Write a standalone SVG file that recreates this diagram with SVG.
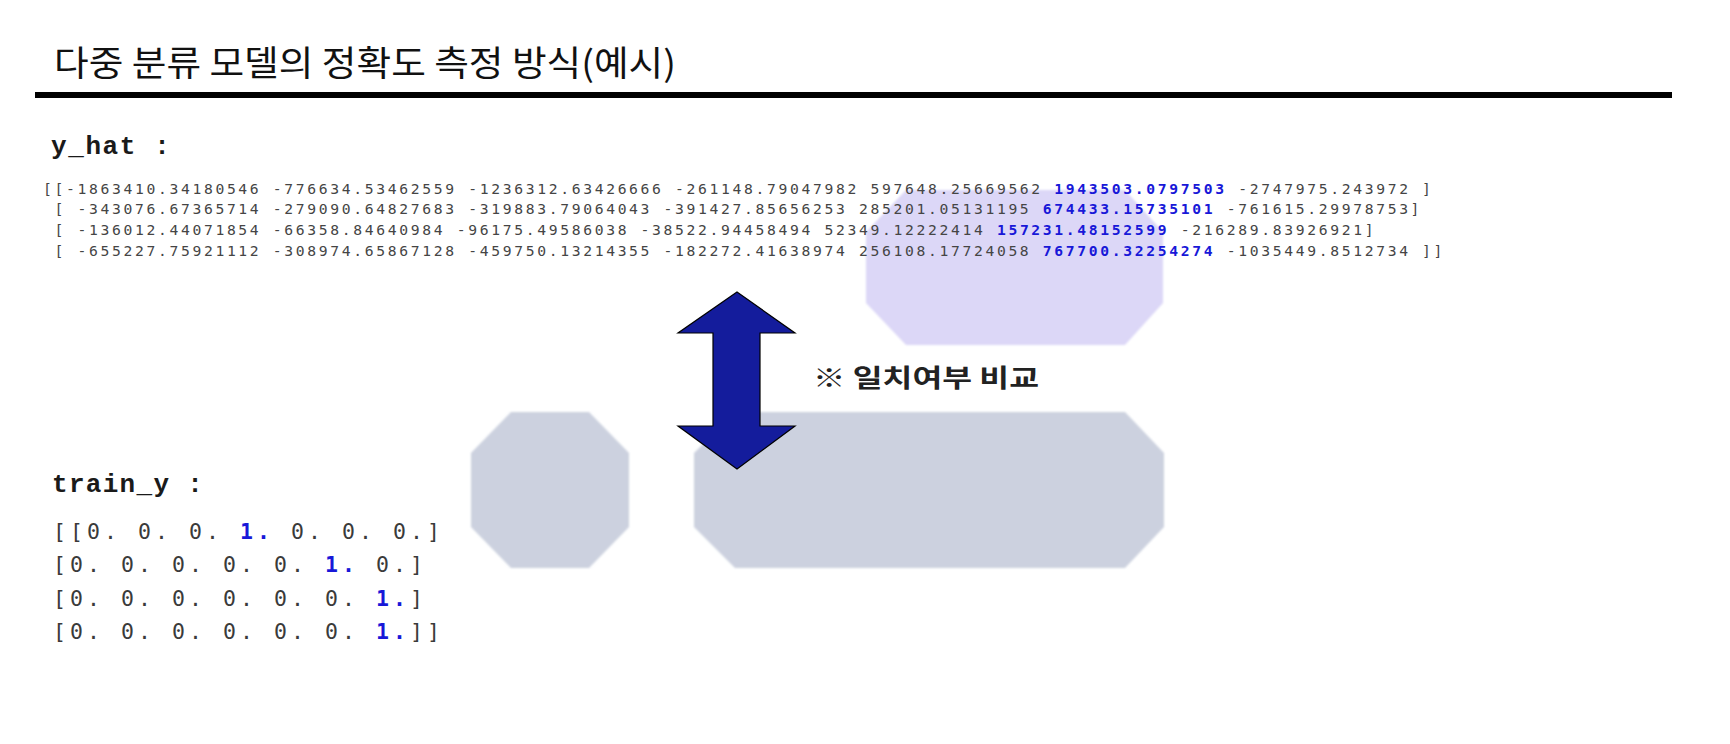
<svg xmlns="http://www.w3.org/2000/svg" width="1730" height="744" viewBox="0 0 1730 744">
  <style>
    .title { font-family: "Noto Sans CJK KR", "Noto Sans", sans-serif; font-size: 35px; font-weight: 400; fill: #111; }
    .label { font-family: "Liberation Mono", "Courier New", monospace; font-size: 26px; font-weight: 700; fill: #1a1a1a; }
    .num { font-family: "DejaVu Sans Mono", monospace; font-size: 14.7px; letter-spacing: 2.65px; fill: #454545; white-space: pre; }
    .row { font-family: "DejaVu Sans Mono", monospace; font-size: 21.5px; letter-spacing: 4.05px; fill: #3a3a3a; white-space: pre; }
    .hi { font-weight: 700; fill: #1818d8; }
    .note { font-family: "Noto Sans CJK KR", "Noto Sans", sans-serif; font-size: 25px; font-weight: 700; fill: #222; }
    .oct-gray { fill: #ccd1df; }
    .oct-purple { fill: #dcd7f7; }
    .arrow { fill: #141c9c; stroke: #000; stroke-width: 1.2; stroke-linejoin: miter; }
  </style>
  <defs>
    <filter id="soft" x="-5%" y="-5%" width="110%" height="110%">
      <feGaussianBlur stdDeviation="0.8"/>
    </filter>
  </defs>
  <rect width="1730" height="744" fill="#ffffff"/>

  <g id="shapes" filter="url(#soft)">
    <polygon id="oct-purple" class="oct-purple" points="906,190 1125,190 1163,232 1163,303 1125,345 906,345 866,303 866,232"/>
    <polygon id="oct-small" class="oct-gray" points="511,412 589,412 629,453 629,527 589,568 511,568 471,527 471,453"/>
    <polygon id="oct-large" class="oct-gray" points="735,412 1125,412 1164,453 1164,527 1125,568 735,568 694,527 694,453"/>
  </g>

  <g id="header">
    <text class="title" x="54" y="76" textLength="622" lengthAdjust="spacingAndGlyphs">다중 분류 모델의 정확도 측정 방식(예시)</text>
    <rect x="35" y="92" width="1637" height="6" fill="#000"/>
  </g>

  <g id="yhat">
    <text class="label" x="51" y="153.5" style="letter-spacing:1.6px">y_hat :</text>
    <text class="num" x="43" y="193.5">[[-1863410.34180546 -776634.53462559 -1236312.63426666 -261148.79047982 597648.25669562 <tspan class="hi">1943503.0797503</tspan> -2747975.243972 ]</text>
    <text class="num" x="43" y="214.3"> [ -343076.67365714 -279090.64827683 -319883.79064043 -391427.85656253 285201.05131195 <tspan class="hi">674433.15735101</tspan> -761615.29978753]</text>
    <text class="num" x="43" y="235.1"> [ -136012.44071854 -66358.84640984 -96175.49586038 -38522.94458494 52349.12222414 <tspan class="hi">157231.48152599</tspan> -216289.83926921]</text>
    <text class="num" x="43" y="255.9"> [ -655227.75921112 -308974.65867128 -459750.13214355 -182272.41638974 256108.17724058 <tspan class="hi">767700.32254274</tspan> -1035449.8512734 ]]</text>
  </g>

  <g id="connectors">
    <polygon class="arrow" points="737,292 795,333 760,333 760,426 795,426 737,469 678,426 713,426 713,333 678,333"/>
  </g>

  <g id="note">
    <text class="note" x="813" y="386.5" textLength="226" lengthAdjust="spacingAndGlyphs">※ 일치여부 비교</text>
  </g>

  <g id="trainy">
    <text class="label" x="52" y="492" style="letter-spacing:1.3px">train_y :</text>
    <text class="row" x="53" y="538.5">[[0. 0. 0. <tspan class="hi">1.</tspan> 0. 0. 0.]</text>
    <text class="row" x="53" y="572">[0. 0. 0. 0. 0. <tspan class="hi">1.</tspan> 0.]</text>
    <text class="row" x="53" y="605.5">[0. 0. 0. 0. 0. 0. <tspan class="hi">1.</tspan>]</text>
    <text class="row" x="53" y="639">[0. 0. 0. 0. 0. 0. <tspan class="hi">1.</tspan>]]</text>
  </g>
</svg>
